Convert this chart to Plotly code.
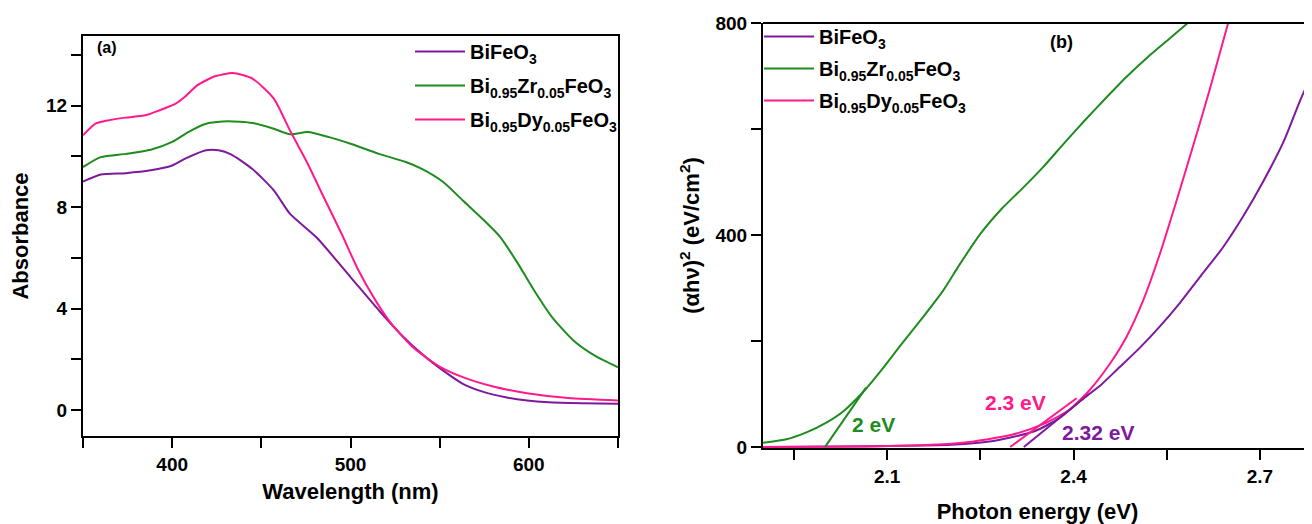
import plotly.graph_objects as go

# ---------------- Panel (a): absorbance vs wavelength ----------------
wl_bfo = [350, 360, 374, 388, 400, 407, 419, 426, 433, 445, 457, 466, 481, 500, 516, 528, 540, 552, 563, 575, 587, 599, 611, 630, 650]
ab_bfo = [9.01, 9.29, 9.34, 9.45, 9.64, 9.9, 10.24, 10.24, 10.08, 9.5, 8.66, 7.74, 6.8, 5.24, 3.92, 3.0, 2.21, 1.55, 1.03, 0.70, 0.5, 0.37, 0.30, 0.26, 0.24]

wl_zr = [350, 360, 374, 388, 400, 409, 419, 431, 445, 457, 466, 476, 488, 500, 516, 531, 540, 552, 563, 575, 584, 594, 603, 613, 625, 637, 650]
ab_zr = [9.58, 9.97, 10.1, 10.26, 10.57, 10.96, 11.29, 11.39, 11.32, 11.09, 10.87, 10.96, 10.76, 10.5, 10.1, 9.78, 9.51, 8.99, 8.26, 7.47, 6.82, 5.76, 4.71, 3.66, 2.74, 2.14, 1.68]

wl_dy = [350, 357, 364, 374, 385, 393, 402, 407, 414, 424, 434, 445, 457, 466, 476, 485, 495, 504, 514, 523, 535, 549, 563, 580, 599, 622, 650]
ab_dy = [10.83, 11.29, 11.42, 11.53, 11.62, 11.82, 12.08, 12.34, 12.8, 13.16, 13.29, 13.07, 12.28, 11.03, 9.71, 8.39, 6.95, 5.57, 4.32, 3.39, 2.47, 1.75, 1.29, 0.92, 0.66, 0.47, 0.37]

# ---------------- Panel (b): Tauc plot ----------------
e_zr = [1.90, 1.936, 1.969, 2.002, 2.03, 2.063, 2.09, 2.123, 2.157, 2.19, 2.217, 2.25, 2.284, 2.317, 2.351, 2.384, 2.418, 2.451, 2.485, 2.518, 2.552, 2.584]
t_zr = [8, 14, 27, 46, 68, 106, 144, 194, 244, 295, 345, 402, 449, 487, 528, 572, 616, 657, 698, 734, 768, 800]

e_dy = [1.90, 2.07, 2.17, 2.237, 2.304, 2.351, 2.391, 2.425, 2.458, 2.485, 2.512, 2.539, 2.566, 2.592, 2.619, 2.649]
t_dy = [0, 1, 4, 10, 24, 43, 68, 106, 156, 207, 276, 364, 465, 566, 673, 800]

e_bfo = [1.90, 2.203, 2.271, 2.338, 2.378, 2.411, 2.445, 2.471, 2.505, 2.538, 2.572, 2.605, 2.639, 2.672, 2.705, 2.739, 2.765, 2.79]
t_bfo = [0, 4, 11, 30, 55, 87, 118, 147, 185, 226, 273, 323, 374, 433, 500, 578, 654, 720]

# tangent (extrapolation) lines
tan_zr_e = [2.0, 2.066]
tan_zr_t = [0, 112]
tan_dy_e = [2.298, 2.405]
tan_dy_t = [0, 92]
tan_bfo_e = [2.32, 2.425]
tan_bfo_t = [0, 100]

gap_labels = ["2 eV", "2.3 eV", "2.32 eV"]

names = ["BiFeO<sub>3</sub>",
         "Bi<sub>0.95</sub>Zr<sub>0.05</sub>FeO<sub>3</sub>",
         "Bi<sub>0.95</sub>Dy<sub>0.05</sub>FeO<sub>3</sub>"]

PURPLE = "#7d1a9c"
GREEN = "#1e8c1e"
PINK = "#ff1a8c"
FONT = "Liberation Sans"

fig = go.Figure()

# panel (a)
for i, (x, y, n, c) in enumerate([(wl_bfo, ab_bfo, names[0], PURPLE), (wl_zr, ab_zr, names[1], GREEN), (wl_dy, ab_dy, names[2], PINK)]):
    fig.add_trace(go.Scatter(x=x, y=y, name=n, mode="lines", line=dict(color=c, width=2, shape="spline", smoothing=0.6),
                             xaxis="x", yaxis="y", legend="legend", legendgroup="a%d" % i))

# panel (b)
for i, (x, y, n, c) in enumerate([(e_bfo, t_bfo, names[0], PURPLE), (e_zr, t_zr, names[1], GREEN), (e_dy, t_dy, names[2], PINK)]):
    fig.add_trace(go.Scatter(x=x, y=y, name=n, mode="lines", line=dict(color=c, width=2, shape="spline", smoothing=0.6),
                             xaxis="x2", yaxis="y2", legend="legend2", legendgroup="b%d" % i))

for x, y, c in [(tan_zr_e, tan_zr_t, GREEN), (tan_dy_e, tan_dy_t, PINK), (tan_bfo_e, tan_bfo_t, PURPLE)]:
    fig.add_trace(go.Scatter(x=x, y=y, mode="lines", line=dict(color=c, width=2), showlegend=False,
                             xaxis="x2", yaxis="y2"))

axis_common = dict(showline=True, linecolor="black", linewidth=2, ticks="outside", ticklen=10, tickwidth=2,
                   tickcolor="black", showgrid=False, zeroline=False, automargin=False,
                   tickfont=dict(family=FONT, size=19, color="black", weight="bold"),
                   title_font=dict(family=FONT, size=22, color="black", weight="bold"))

# page body adds an 8px offset; figure sized so it fits the window
W, H = 1304, 516
OFF = 8
leg_font = dict(family=FONT, size=20, color="black", weight="bold")
fig.update_layout(
    width=W, height=H, margin=dict(l=0, r=0, t=0, b=0),
    paper_bgcolor="white", plot_bgcolor="white",
    font=dict(family=FONT, color="black"),
    xaxis=dict(domain=[(83 - OFF) / W, (618 - OFF) / W], anchor="y", range=[350, 650], tickvals=[400, 500, 600],
               minor=dict(ticks="outside", dtick=50, tick0=350, ticklen=10, tickwidth=2, tickcolor="black"),
               mirror=True, title=dict(text="Wavelength (nm)", standoff=10), **axis_common),
    yaxis=dict(domain=[1 - (436 - OFF) / H, 1 - (36 - OFF) / H], anchor="x", range=[-1.03, 14.75], tickvals=[0, 4, 8, 12],
               minor=dict(ticks="outside", dtick=2, tick0=0, ticklen=10, tickwidth=2, tickcolor="black"),
               mirror=True, title=dict(text="Absorbance", standoff=12), **axis_common),
    xaxis2=dict(domain=[(763 - OFF) / W, 1.0], anchor="y2", range=[1.9, 2.784], tickvals=[2.1, 2.4, 2.7],
                minor=dict(ticks="outside", dtick=0.15, tick0=1.95, ticklen=10, tickwidth=2, tickcolor="black"),
                title=dict(text="Photon energy (eV)", standoff=37), **axis_common),
    yaxis2=dict(domain=[1 - (448 - OFF) / H, 1 - (23 - OFF) / H], anchor="x2", range=[-2, 800], tickvals=[0, 400, 800],
                minor=dict(ticks="outside", dtick=200, tick0=0, ticklen=10, tickwidth=2, tickcolor="black"),
                title=dict(text="(αhν)<sup>2</sup> (eV/cm<sup>2</sup>)", standoff=10), **axis_common),
    legend=dict(x=402 / W, y=1 - 24 / H, xanchor="left", yanchor="top", bgcolor="rgba(0,0,0,0)",
                font=leg_font, itemwidth=50, tracegroupgap=5),
    legend2=dict(x=751 / W, y=1 - 9 / H, xanchor="left", yanchor="top", bgcolor="rgba(0,0,0,0)",
                 font=leg_font, itemwidth=50, tracegroupgap=3),
    showlegend=True,
)

# Top frame line for panel (b)
fig.add_shape(type="line", xref="x2 domain", yref="y2 domain", x0=0, x1=1, y0=1, y1=1,
              line=dict(color="black", width=2))

fig.add_annotation(x=363.5, y=14.3, xref="x", yref="y", text="(a)", showarrow=False,
                   font=dict(family=FONT, size=16, color="black", weight="bold"))
fig.add_annotation(x=2.381, y=764, xref="x2", yref="y2", text="(b)", showarrow=False,
                   font=dict(family=FONT, size=18, color="black", weight="bold"))

for (gx, gy), lbl, c in zip([(2.078, 43), (2.307, 83), (2.44, 28)], gap_labels, [GREEN, PINK, PURPLE]):
    fig.add_annotation(x=gx, y=gy, xref="x2", yref="y2", text=lbl, showarrow=False,
                       font=dict(family=FONT, size=21, color=c, weight="bold"))

fig.write_html("out.html")
